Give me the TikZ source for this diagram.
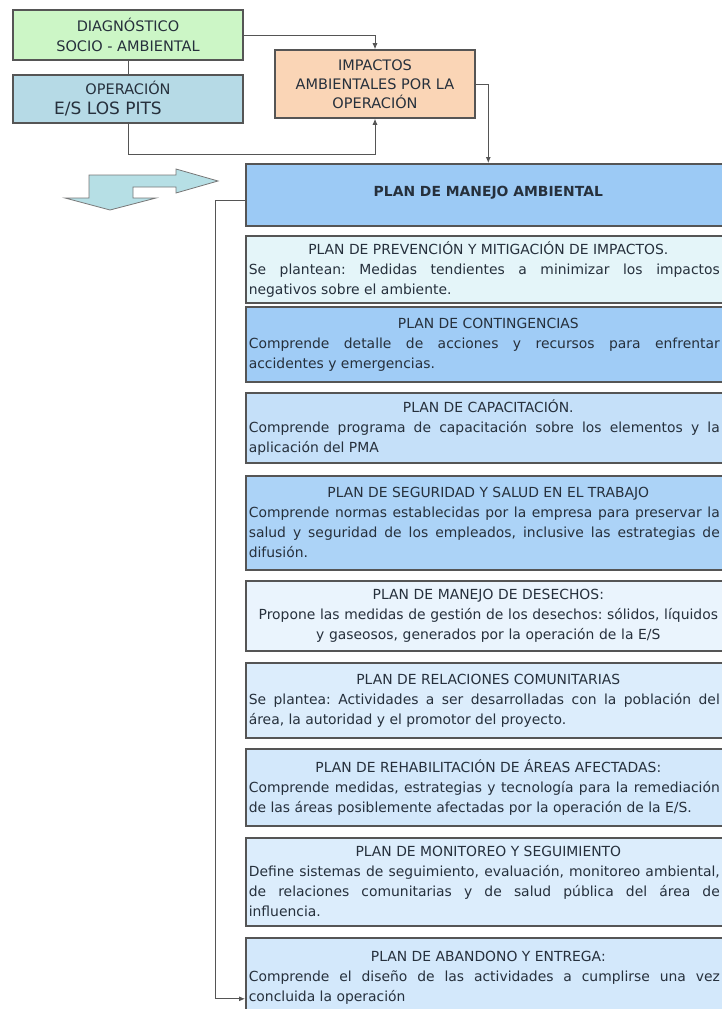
\documentclass[tikz,border=0pt]{standalone}
\usepackage{fontspec}
\setmainfont{DejaVu Sans}
\usetikzlibrary{arrows.meta}
\frenchspacing
\definecolor{linea}{HTML}{555555}
\definecolor{texto}{HTML}{26303C}
\definecolor{verde}{HTML}{CCF6C6}
\definecolor{celeste}{HTML}{B6DAE6}
\definecolor{durazno}{HTML}{FAD5B6}
\definecolor{azul}{HTML}{9CCAF5}
\definecolor{flechac}{HTML}{B6DFE5}
\definecolor{planA}{HTML}{E4F5F9}
\definecolor{planB}{HTML}{A0CCF6}
\definecolor{planC}{HTML}{C5E0F9}
\definecolor{planD}{HTML}{ACD3F7}
\definecolor{planE}{HTML}{EAF4FD}
\definecolor{planF}{HTML}{DCEDFC}
\definecolor{planG}{HTML}{D3E8FB}
\newcommand{\titulo}[1]{{\centering #1\par}\noindent}
\newcommand{\cuerpo}[1]{\parbox[t]{471pt}{#1}}
\begin{document}
\begin{tikzpicture}[x=1pt,y=-1pt,
  caja/.style={draw=linea,line width=1.6pt,inner sep=0pt,text=texto,align=center,
    font={\fontsize{14.5}{20}\selectfont}},
  plan/.style={caja,anchor=north west,minimum width=485pt,text width=479pt,inner xsep=3pt,
    align=justify,font={\fontsize{13.9}{20}\selectfont\tolerance=9999\hyphenpenalty=10000}},
  flecha/.style={draw=linea,line width=0.8pt,-{Latex[length=6pt,width=5pt]}}]
\useasboundingbox (0,0) rectangle (721,1009);

\node[caja,fill=verde,minimum width=230pt,minimum height=50pt] (diag) at (128,35) {DIAGNÓSTICO\\SOCIO - AMBIENTAL};
\node[caja,fill=celeste,minimum width=230pt,minimum height=48pt] (oper) at (128,99) {OPERACIÓN\\{\fontsize{17}{20}\selectfont E/S LOS PITS}\hspace*{40pt}};
\node[caja,fill=durazno,minimum width=200pt,minimum height=68pt,font={\fontsize{14.5}{19}\selectfont}] (impact) at (375,84) {IMPACTOS\\AMBIENTALES POR LA\\OPERACIÓN};

\node[caja,fill=azul,anchor=north west,minimum width=485pt,minimum height=62pt,font={\bfseries\fontsize{13.9}{20}\selectfont}] (pma) at (245,163) {\raisebox{6pt}{PLAN DE MANEJO AMBIENTAL}};

\node[plan,fill=planA,minimum height=67pt] (p1) at (245,235) {\titulo{PLAN DE PREVENCIÓN Y MITIGACIÓN DE IMPACTOS.}\cuerpo{Se plantean: Medidas tendientes a minimizar los impactos\linebreak negativos sobre el ambiente.}};
\node[plan,fill=planB,minimum height=75pt] (p2) at (245,306) {\titulo{PLAN DE CONTINGENCIAS}\cuerpo{Comprende detalle de acciones y recursos para enfrentar\linebreak accidentes y emergencias.}};
\node[plan,fill=planC,minimum height=70pt] (p3) at (245,392) {\titulo{PLAN DE CAPACITACIÓN.}\cuerpo{Comprende programa de capacitación sobre los elementos y la\linebreak aplicación del PMA}};
\node[plan,fill=planD,minimum height=94pt] (p4) at (245,475) {\titulo{PLAN DE SEGURIDAD Y SALUD EN EL TRABAJO}\cuerpo{Comprende normas establecidas por la empresa para preservar la\linebreak salud y seguridad de los empleados, inclusive las estrategias de\linebreak difusión.}};
\node[plan,fill=planE,minimum height=70pt,align=center] (p5) at (245,580) {PLAN DE MANEJO DE DESECHOS:\\Propone las medidas de gestión de los desechos: sólidos, líquidos\\y gaseosos, generados por la operación de la E/S};
\node[plan,fill=planF,minimum height=75pt] (p6) at (245,662) {\titulo{PLAN DE RELACIONES COMUNITARIAS}\cuerpo{Se plantea: Actividades a ser desarrolladas con la población del\linebreak área, la autoridad y el promotor del proyecto.}};
\node[plan,fill=planG,minimum height=77pt] (p7) at (245,748) {\titulo{PLAN DE REHABILITACIÓN DE ÁREAS AFECTADAS:}\cuerpo{Comprende medidas, estrategias y tecnología para la remediación\linebreak de las áreas posiblemente afectadas por la operación de la E/S.}};
\node[plan,fill=planF,minimum height=88pt] (p8) at (245,837) {\titulo{PLAN DE MONITOREO Y SEGUIMIENTO}\cuerpo{Define sistemas de seguimiento, evaluación, monitoreo ambiental,\linebreak de relaciones comunitarias y de salud pública del área de\linebreak influencia.}};
\node[plan,fill=planG,minimum height=80pt] (p9) at (245,937) {\titulo{PLAN DE ABANDONO Y ENTREGA:}\cuerpo{Comprende el diseño de las actividades a cumplirse una vez\linebreak concluida la operación}};

\filldraw[fill=flechac,draw=linea!80,line width=0.8pt] (89,175) -- (176,175) -- (176,169) -- (218,181) -- (176,193) -- (176,187) -- (133,187) -- (133,198) -- (156,198) -- (110,210) -- (65,198) -- (89,198) -- cycle;

\draw[draw=linea,line width=0.8pt] (diag) -- (oper);
\draw[flecha] (diag.east) -| (impact.north);
\draw[flecha] (oper.south) -- ++(0,31) -| (impact.south);
\draw[flecha] (impact.east) -| (pma.north);
\draw[flecha] ([yshift=-6pt]pma.west) -- ++(-30,0) |- ([yshift=-21pt]p9.west);
\end{tikzpicture}
\end{document}
